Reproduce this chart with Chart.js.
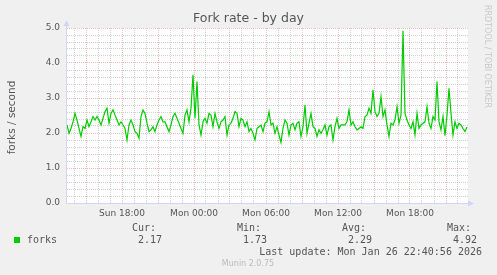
<!DOCTYPE html>
<html lang="en">
<head>
  <meta charset="UTF-8" />
  <title>Fork rate - by day</title>
  <script src="https://cdn.jsdelivr.net/npm/chart.js"></script>
  <style>
body {
  margin: 0;
  background: #f0f0f0;
}

canvas {
  display: block;
}
  </style>
</head>
<body>
<canvas id="graficoForks" width="497" height="275"></canvas>

<script>
// hours counted from Sun 00:00, one sample every 10 minutes
const startHour = 13 + 25 / 60;
const endHour = 46 + 50 / 60;
const stepHour = 10 / 60;

const forks = [
  2.23, 1.99, 2.13, 2.32, 2.56, 2.37, 2.13, 1.90, 2.18, 2.13, 2.37, 2.18, 2.32, 2.47,
  2.37, 2.47, 2.37, 2.23, 2.42, 2.61, 2.71, 2.28, 2.56, 2.66, 2.51, 2.37, 2.23, 2.32,
  2.23, 2.13, 1.80, 2.23, 2.37, 2.23, 2.04, 1.99, 1.85, 2.47, 2.66, 2.56, 2.28, 2.04,
  2.09, 2.18, 2.04, 2.23, 2.37, 2.47, 2.32, 2.32, 2.18, 2.04, 2.23, 2.47, 2.56, 2.42,
  2.28, 2.13,
  1.99, 2.51, 2.66, 2.32, 2.71, 3.66, 2.42, 3.47, 2.23, 1.94, 2.32, 2.42, 2.28, 2.56,
  2.51, 2.18, 2.56, 2.32, 2.13, 2.32, 2.37, 2.47, 1.94, 2.23, 2.28, 2.42, 2.61, 2.56,
  2.18,
  2.42, 2.37, 2.18, 2.32, 2.04, 2.13, 1.99, 1.80, 2.13, 2.18, 2.23, 2.04, 2.28, 2.32,
  2.61, 2.23, 2.28, 1.99, 2.18, 1.94, 1.73, 2.13, 2.37, 2.28, 1.94, 2.23, 2.28, 2.09,
  2.28,
  2.32, 1.90, 2.18, 2.80, 1.99, 2.28, 2.56, 2.18, 2.13, 1.90, 2.09, 1.99, 2.09, 2.23,
  1.94, 2.18, 2.23, 1.80, 2.18, 2.42, 2.13, 2.23, 2.23, 2.23, 2.32, 2.66, 2.23, 2.32,
  2.18,
  2.09, 2.13, 2.18, 2.13, 2.47, 2.51, 2.71, 2.56, 3.23, 2.61, 2.47, 2.56, 3.04, 2.47,
  2.66, 2.23, 1.90, 2.28, 2.23, 2.37, 2.75, 2.28, 2.51, 4.92, 2.56, 2.37, 2.23, 2.13,
  2.32,
  1.95, 2.56, 2.13, 2.23, 2.28, 2.32, 2.75, 2.28, 2.13, 2.47, 2.37, 3.47, 2.32, 2.09,
  2.47, 1.92, 2.51, 3.28, 2.56, 1.94, 2.32, 2.13, 2.28, 2.23, 2.13, 2.04, 2.17
];

const xTickHours = [18, 24, 30, 36, 42];
const xTickLabels = ['Sun 18:00', 'Mon 00:00', 'Mon 06:00', 'Mon 12:00', 'Mon 18:00'];
const yTickLabels = ['0.0', '1.0', '2.0', '3.0', '4.0', '5.0'];

const legendHeads = ['Cur:', 'Min:', 'Avg:', 'Max:'];
const legendValues = ['2.17', '1.73', '2.29', '4.92'];
const lastUpdate = 'Last update: Mon Jan 26 22:40:56 2026';

const GRIS = 'rgba(150, 150, 150, 0.45)';
const ROJO = 'rgba(224, 90, 90, 0.4)';
const EJE = '#cfd6f8';
const TEXTO = '#555555';

// extra drawing: backgrounds, axes with arrows, titles and legend
const munin = {
  id: 'munin',
  beforeDraw(chart) {
    const { ctx, chartArea: a } = chart;
    ctx.save();
    ctx.fillStyle = '#f0f0f0';
    ctx.fillRect(0, 0, chart.width, chart.height);
    ctx.fillStyle = '#ffffff';
    ctx.fillRect(a.left, a.top, a.right - a.left, a.bottom - a.top);
    ctx.restore();
  },
  afterDraw(chart) {
    const { ctx, chartArea: a } = chart;
    const x0 = a.left - 0.5;
    const y0 = a.bottom + 0.5;
    ctx.save();

    // axes
    ctx.strokeStyle = EJE;
    ctx.fillStyle = EJE;
    ctx.lineWidth = 1;
    ctx.beginPath();
    ctx.moveTo(x0, y0);
    ctx.lineTo(a.right + 3, y0);
    ctx.moveTo(x0, y0);
    ctx.lineTo(x0, a.top - 3);
    ctx.stroke();
    ctx.beginPath();
    ctx.moveTo(x0, a.top - 8);
    ctx.lineTo(x0 - 3, a.top - 2);
    ctx.lineTo(x0 + 3, a.top - 2);
    ctx.closePath();
    ctx.fill();
    ctx.beginPath();
    ctx.moveTo(a.right + 6, y0);
    ctx.lineTo(a.right, y0 - 3);
    ctx.lineTo(a.right, y0 + 3);
    ctx.closePath();
    ctx.fill();

    // title
    ctx.fillStyle = TEXTO;
    ctx.font = '12.5px "DejaVu Sans"';
    ctx.textAlign = 'center';
    ctx.textBaseline = 'middle';
    ctx.fillText('Fork rate - by day', 248.5, 19);

    // vertical label
    ctx.save();
    ctx.translate(12, (a.top + a.bottom) / 2 + 2);
    ctx.rotate(-Math.PI / 2);
    ctx.font = '10.5px "DejaVu Sans"';
    ctx.fillText('forks / second', 0, 0);
    ctx.restore();

    // rrdtool watermark
    ctx.save();
    ctx.translate(487, 5);
    ctx.rotate(Math.PI / 2);
    ctx.fillStyle = '#c8c8c8';
    ctx.font = '8px "DejaVu Sans"';
    ctx.textAlign = 'left';
    ctx.fillText('RRDTOOL / TOBI OETIKER', 0, 0);
    ctx.restore();

    // legend
    ctx.font = '10px "DejaVu Sans Mono"';
    ctx.textAlign = 'left';
    const colHeads = [132, 237, 342, 447];
    const colValues = [138, 243, 348, 453];
    legendHeads.forEach((t, i) => ctx.fillText(t, colHeads[i], 228));
    legendValues.forEach((t, i) => ctx.fillText(t, colValues[i], 240));
    ctx.fillText('forks', 27, 240);
    ctx.fillStyle = '#00cc00';
    ctx.fillRect(14, 237, 6, 6);
    ctx.fillStyle = TEXTO;
    ctx.textAlign = 'right';
    ctx.fillText(lastUpdate, 482, 252);

    ctx.textAlign = 'center';
    ctx.fillStyle = '#bbbbbb';
    ctx.font = '8px "DejaVu Sans"';
    ctx.fillText('Munin 2.0.75', 248, 264);

    ctx.restore();
  }
};

const ctx = document.getElementById('graficoForks').getContext('2d');

const puntos = forks.map((v, i) => ({ x: startHour + i * stepHour, y: v }));

new Chart(ctx, {
  type: 'line',
  data: {
    datasets: [{
      label: 'forks',
      data: puntos,
      borderColor: '#00cc00',
      borderWidth: 1.2,
      pointRadius: 0,
      tension: 0,
      fill: false
    }]
  },
  options: {
    responsive: false,
    animation: false,
    devicePixelRatio: 1,
    layout: { padding: { top: 28, right: 29, left: 0, bottom: 0 } },
    plugins: {
      legend: { display: false },
      tooltip: { enabled: false }
    },
    scales: {
      x: {
        type: 'linear',
        min: startHour,
        max: endHour,
        afterBuildTicks: (scale) => {
          scale.ticks = [];
          for (let h = Math.ceil(startHour); h <= Math.floor(endHour); h++) {
            scale.ticks.push({ value: h });
          }
        },
        afterFit: (scale) => { scale.height = 72; },
        grid: {
          drawTicks: false,
          color: (c) => (c.tick && c.tick.value % 3 === 0 ? ROJO : GRIS)
        },
        border: { display: false, dash: [1, 1] },
        ticks: {
          autoSkip: false,
          maxRotation: 0,
          minRotation: 0,
          padding: 5,
          color: TEXTO,
          font: { family: 'DejaVu Sans', size: 9 },
          callback: (value) => {
            const i = xTickHours.indexOf(value);
            return i >= 0 ? xTickLabels[i] : '';
          }
        }
      },
      y: {
        min: 0,
        max: 5,
        afterBuildTicks: (scale) => {
          scale.ticks = [];
          for (let k = 0; k <= 25; k++) scale.ticks.push({ value: k / 5 });
        },
        afterFit: (scale) => { scale.width = 67; },
        grid: {
          drawTicks: false,
          color: (c) => (c.tick && Math.round(c.tick.value * 5) % 5 === 0 ? ROJO : GRIS)
        },
        border: { display: false, dash: [1, 1] },
        ticks: {
          autoSkip: false,
          padding: 7,
          color: TEXTO,
          font: { family: 'DejaVu Sans', size: 9 },
          callback: (value) => {
            const k = Math.round(value * 5);
            return k % 5 === 0 ? yTickLabels[k / 5] : '';
          }
        }
      }
    }
  },
  plugins: [munin]
});
</script>

</body>
</html>
